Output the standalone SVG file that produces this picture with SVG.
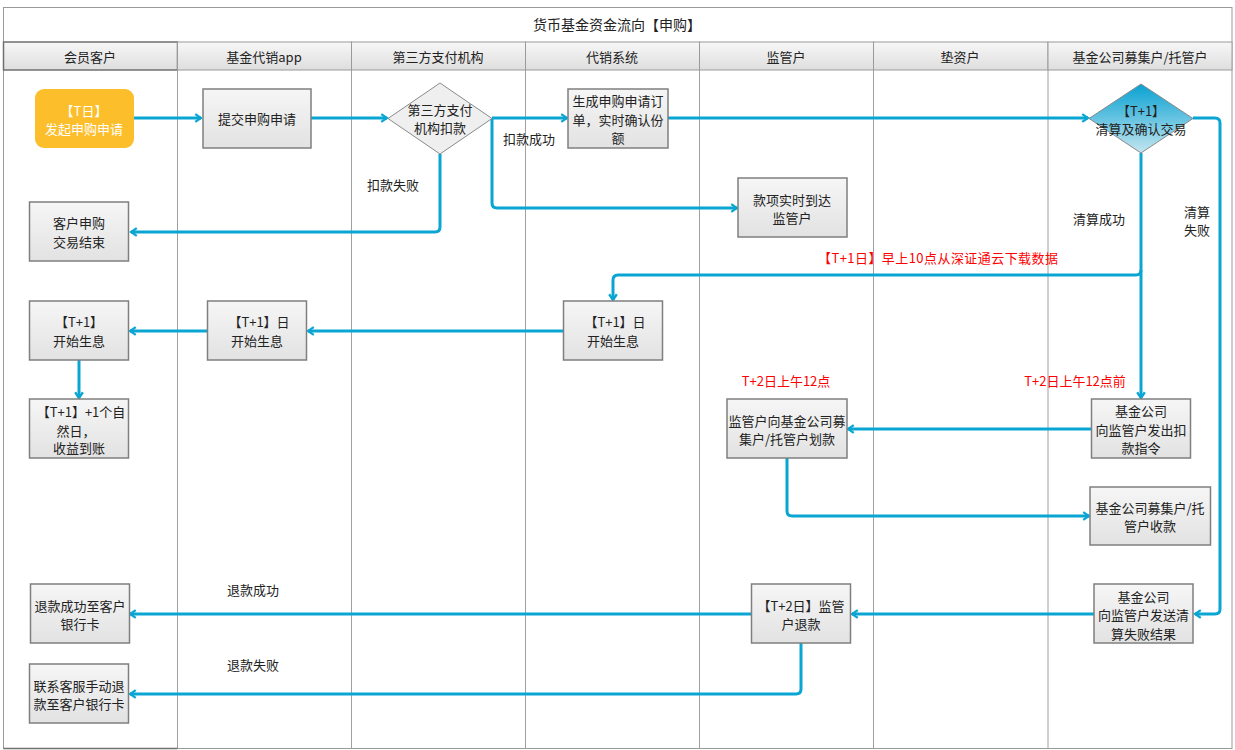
<svg xmlns="http://www.w3.org/2000/svg" width="1235" height="750" viewBox="0 0 1235 750">
<style>
text{font-family:"Noto Sans CJK SC","Liberation Sans",sans-serif;font-size:13px;fill:#222;text-anchor:middle;dominant-baseline:central}
.title{font-size:14px}
.hdr{fill:url(#gh);stroke:#9a9a9a;stroke-width:1}
.lane{stroke:#a0a0a0;stroke-width:1;fill:none}
.box{fill:url(#gb);stroke:#7f7f7f;stroke-width:1.5}
.red{fill:#ff0000}
.wt{fill:#ffffff}
.con{fill:none;stroke:#0aa6d3;stroke-width:3;stroke-linejoin:round}
.arr{marker-end:url(#ah)}
</style>
<defs>
<linearGradient id="gh" x1="0" y1="0" x2="0" y2="1"><stop offset="0" stop-color="#f7f7f7"/><stop offset="1" stop-color="#dedede"/></linearGradient>
<linearGradient id="gb" x1="0" y1="0" x2="0" y2="1"><stop offset="0" stop-color="#f6f6f6"/><stop offset="1" stop-color="#e2e2e2"/></linearGradient>
<linearGradient id="gd" x1="0" y1="0" x2="0" y2="1"><stop offset="0" stop-color="#08a1d2"/><stop offset="1" stop-color="#c4e6f0"/></linearGradient>
<marker id="ah" viewBox="0 0 10 10" refX="8" refY="5" markerWidth="3.2" markerHeight="3.2" orient="auto" markerUnits="strokeWidth"><path d="M2,1 L8,5 L2,9" fill="none" stroke="#0aa6d3" stroke-width="2.4"/></marker>
</defs>
<rect x="0" y="0" width="1235" height="750" fill="#ffffff"/>
<g id="frame">
<rect x="3.5" y="7.5" width="1228.5" height="741" fill="none" stroke="#9a9a9a" stroke-width="1"/>
<text class="title" x="617" y="24">货币基金资金流向【申购】</text>
<rect class="hdr" x="3.5" y="42" width="174" height="28" style="stroke:#707070;stroke-width:1.5"/>
<rect class="hdr" x="177.5" y="42" width="174" height="28"/>
<rect class="hdr" x="351.5" y="42" width="174" height="28"/>
<rect class="hdr" x="525.5" y="42" width="174" height="28"/>
<rect class="hdr" x="699.5" y="42" width="174" height="28"/>
<rect class="hdr" x="873.5" y="42" width="174.5" height="28"/>
<rect class="hdr" x="1048" y="42" width="184" height="28"/>
<text x="90" y="56">会员客户</text>
<text x="264" y="56">基金代销app</text>
<text x="438" y="56">第三方支付机构</text>
<text x="612" y="56">代销系统</text>
<text x="786" y="56">监管户</text>
<text x="960" y="56">垫资户</text>
<text x="1140" y="56">基金公司募集户/托管户</text>
<path class="lane" d="M177.5,70 V749 M351.5,70 V749 M525.5,70 V749 M699.5,70 V749 M873.5,70 V749 M1048,70 V749"/>
<path d="M3.5,748.5 H177.5" stroke="#707070" stroke-width="1.5"/>
</g>
<g id="connectors">
<path class="con arr" d="M134,118 H201"/>
<path class="con arr" d="M311,118 H387"/>
<path class="con arr" d="M492,118 H567"/>
<path class="con arr" d="M492,118 V203 Q492,208 497,208 H737"/>
<path class="con arr" d="M440,154 V227 Q440,232 435,232 H131"/>
<path class="con arr" d="M668,118 H1088"/>
<path class="con arr" d="M1193,118 H1215 Q1220,118 1220,123 V609 Q1220,614 1215,614 H1195"/>
<path class="con arr" d="M1141,153 V398"/>
<path class="con arr" d="M1141,270 Q1141,275 1136,275 H618 Q613,275 613,280 V300"/>
<path class="con arr" d="M563,331 H308"/>
<path class="con arr" d="M207,331 H130"/>
<path class="con arr" d="M79,360 V398"/>
<path class="con arr" d="M1091,429 H848"/>
<path class="con arr" d="M787,458 V511 Q787,516 792,516 H1089"/>
<path class="con arr" d="M1094,614 H852"/>
<path class="con arr" d="M751,614 H130"/>
<path class="con arr" d="M801,643 V689 Q801,694 796,694 H130"/>
</g>
<g id="labels">
<text x="529" y="138">扣款成功</text>
<text x="393" y="184">扣款失败</text>
<text x="1099" y="218">清算成功</text>
<text x="1197" y="211">清算</text>
<text x="1197" y="229">失败</text>
<text class="red" x="938" y="257" textLength="240" lengthAdjust="spacing">【T+1日】早上10点从深证通云下载数据</text>
<text class="red" x="786" y="380">T+2日上午12点</text>
<text class="red" x="1075" y="380">T+2日上午12点前</text>
<text x="253" y="589">退款成功</text>
<text x="253" y="664">退款失败</text>
</g>
<g id="n1"><rect x="35" y="89" width="99" height="59" rx="9" fill="#fdbe2b"/><text class="wt" x="84" y="110.5">【T日】</text><text class="wt" x="84" y="128.5">发起申购申请</text></g>
<g id="n2"><rect class="box" x="203" y="89" width="108" height="59"/><text x="257" y="118.5">提交申购申请</text></g>
<g id="n3"><polygon points="440,83 492,118.5 440,154 388,118.5" fill="#efefef" stroke="#8a8a8a" stroke-width="1"/><text x="440" y="109.5">第三方支付</text><text x="440" y="127.5">机构扣款</text></g>
<g id="n4"><rect class="box" x="568" y="89" width="100" height="59"/><text x="618" y="100.5">生成申购申请订</text><text x="618" y="119">单，实时确认份</text><text x="618" y="137.5">额</text></g>
<g id="n5"><polygon points="1141,84 1193,118.5 1141,153 1089,118.5" fill="url(#gd)" stroke="#8a8a8a" stroke-width="1"/><text x="1141" y="110">【T+1】</text><text x="1141" y="128.5">清算及确认交易</text></g>
<g id="n6"><rect class="box" x="738" y="178" width="109" height="59"/><text x="792" y="199.5">款项实时到达</text><text x="792" y="217.5">监管户</text></g>
<g id="n7"><rect class="box" x="29.5" y="202" width="99" height="59"/><text x="79" y="222.5">客户申购</text><text x="79" y="241">交易结束</text></g>
<g id="n8"><rect class="box" x="29.5" y="301" width="99" height="59"/><text x="79" y="321.5">【T+1】</text><text x="79" y="340">开始生息</text></g>
<g id="n9"><rect class="box" x="207.5" y="301" width="99" height="59"/><text x="259" y="321.5">【T+1】日</text><text x="257" y="340">开始生息</text></g>
<g id="n10"><rect class="box" x="563.5" y="301" width="99" height="59"/><text x="615" y="321.5">【T+1】日</text><text x="613" y="340">开始生息</text></g>
<g id="n11"><rect class="box" x="29.5" y="399" width="99" height="59"/><text x="81" y="411.5">【T+1】+1个自</text><text x="76" y="430">然日，</text><text x="79" y="447.5">收益到账</text></g>
<g id="n12"><rect class="box" x="727" y="399" width="120" height="59"/><text x="787" y="420.5">监管户向基金公司募</text><text x="787" y="438.5">集户/托管户划款</text></g>
<g id="n13"><rect class="box" x="1091.5" y="399" width="99" height="59"/><text x="1141" y="410.5">基金公司</text><text x="1141" y="429">向监管户发出扣</text><text x="1141" y="447.5">款指令</text></g>
<g id="n14"><rect class="box" x="1090" y="487" width="120.5" height="58"/><text x="1150" y="507.5">基金公司募集户/托</text><text x="1150" y="525">管户收款</text></g>
<g id="n15"><rect class="box" x="751.5" y="584" width="99" height="59"/><text x="801" y="605.5">【T+2日】监管</text><text x="801" y="623.5">户退款</text></g>
<g id="n16"><rect class="box" x="1094" y="584" width="99" height="59"/><text x="1143.5" y="596">基金公司</text><text x="1143.5" y="614.5">向监管户发送清</text><text x="1143.5" y="633">算失败结果</text></g>
<g id="n17"><rect class="box" x="30.5" y="584" width="99" height="59"/><text x="80" y="605">退款成功至客户</text><text x="80" y="623.5">银行卡</text></g>
<g id="n18"><rect class="box" x="29.5" y="664" width="99" height="59"/><text x="79" y="685.5">联系客服手动退</text><text x="79" y="703.5">款至客户银行卡</text></g>
</svg>
